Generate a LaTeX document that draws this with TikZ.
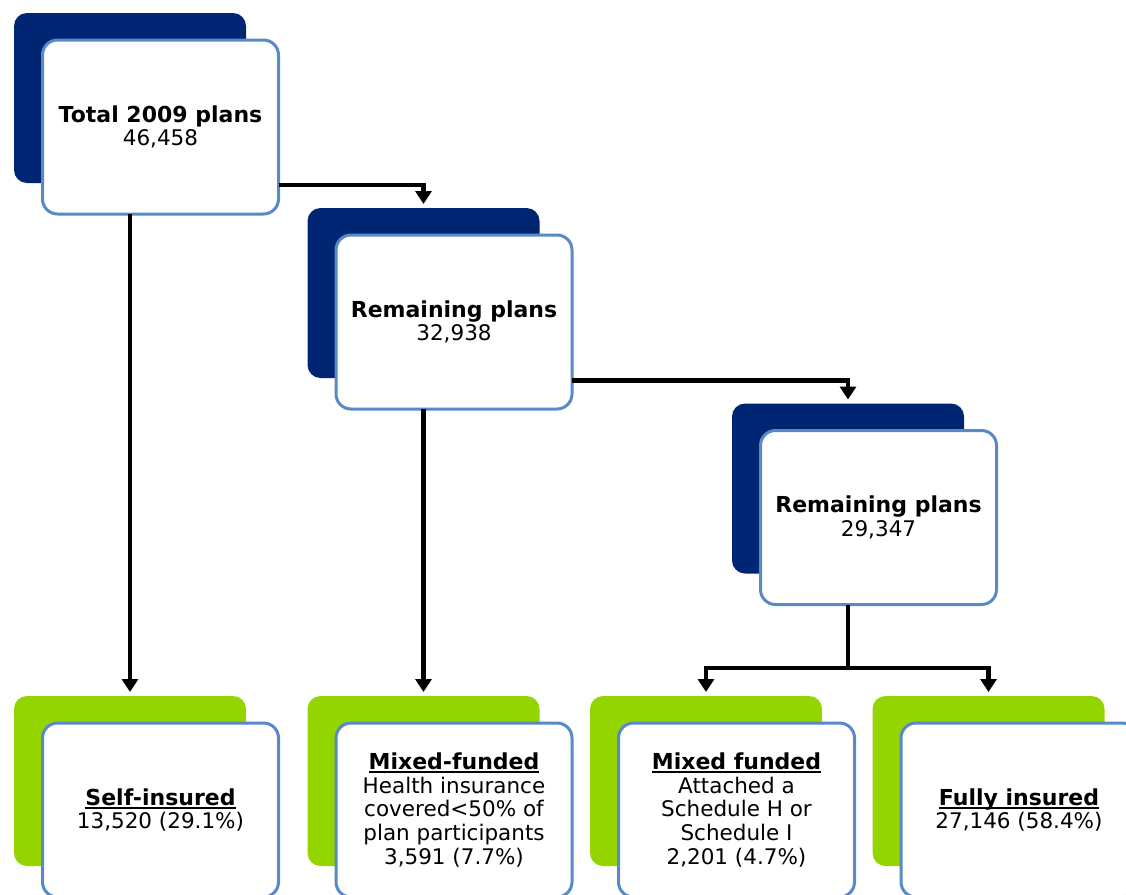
\documentclass[tikz,border=0pt]{standalone}
\usepackage{fontspec}
\setmainfont{DejaVu Sans}
\usetikzlibrary{arrows.meta}
\definecolor{navy}{RGB}{0,38,115}
\definecolor{lgreen}{RGB}{148,212,0}
\definecolor{edgeblue}{RGB}{88,138,198}
\newcommand\bt[1]{{\fontsize{22}{23.7}\selectfont\textbf{#1}}}
\newcommand\hdr[1]{\setbox0\hbox{\bt{#1}}\rlap{\rule[-3.5pt]{\wd0}{1.6pt}}\box0}
\begin{document}
\begin{tikzpicture}[x=1pt,y=-1pt,
  back/.style={minimum width=232pt, minimum height=170pt, rounded corners=13pt, inner sep=0pt, outer sep=0pt},
  navyback/.style={back, fill=navy},
  greenback/.style={back, fill=lgreen},
  front/.style={draw=edgeblue, line width=3pt, fill=white, rounded corners=15pt,
    minimum width=236pt, minimum height=174pt, inner sep=0pt, outer sep=0pt, align=center,
    font=\fontsize{21.5}{23.7}\selectfont, text=black},
  conn/.style={line width=4.8pt, line join=miter, -{Triangle[width=16pt,length=13pt]}, shorten >=4pt},
  plain/.style={line width=4.8pt, line join=miter}]
\clip (0,0) rectangle (1126,894);
\fill[white] (0,0) rectangle (1126,894);
% back boxes
\node[navyback] (b1) at (130,98) {};
\node[navyback] (b2) at (423.5,293) {};
\node[navyback] (b3) at (848,488.5) {};
\node[greenback] (g1) at (130,781) {};
\node[greenback] (g2) at (423.5,781) {};
\node[greenback] (g3) at (706,781) {};
\node[greenback] (g4) at (988.5,781) {};
% front boxes
\node[front] (f1) at (160.5,127) {\bt{Total 2009 plans}\\46,458};
\node[front] (f2) at (454,322) {\bt{Remaining plans}\\32,938};
\node[front] (f3) at (878.5,517.5) {\bt{Remaining plans}\\29,347};
\node[front] (h1) at (160.5,810) {\hdr{Self-insured}\\13,520 (29.1\%)};
\node[front] (h2) at (454,810) {\hdr{Mixed-funded}\\Health insurance\\covered<50\% of\\plan participants\\3,591 (7.7\%)};
\node[front] (h3) at (736.5,810) {\hdr{Mixed funded}\\Attached a\\Schedule H or\\Schedule I\\2,201 (4.7\%)};
\node[front] (h4) at (1019,810) {\hdr{Fully insured}\\27,146 (58.4\%)};
% connectors
\draw[conn] (f1.east |- 0,185) -| (b2.north);
\draw[conn] (b1.south |- f1.south) -- (g1.north);
\draw[conn] (f2.east |- 0,380.5) -| (b3.north);
\draw[conn] (b2.south |- f2.south) -- (g2.north);
\coordinate (fork) at (848,668);
\draw[plain] (b3.south |- f3.south) -- (fork);
\draw[conn] (fork) -| (g3.north);
\draw[conn] (fork) -| (g4.north);
\end{tikzpicture}
\end{document}
